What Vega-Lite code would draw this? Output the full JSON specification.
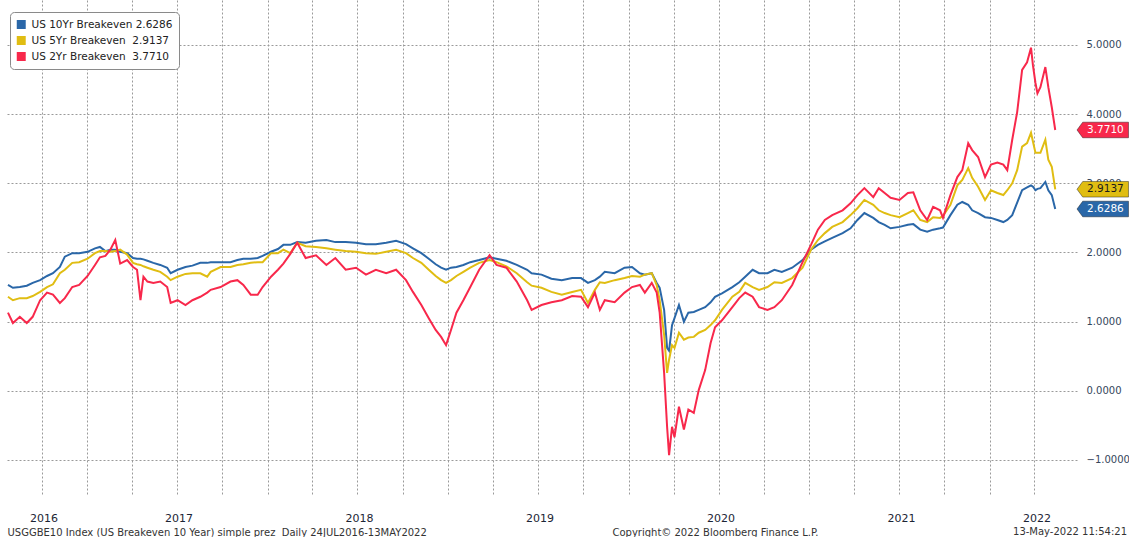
{
  "$schema": "https://vega.github.io/schema/vega-lite/v6.json",
  "width": 1072,
  "height": 495,
  "autosize": {"type": "none"},
  "padding": {"left": 5, "top": 0, "right": 52, "bottom": 42},
  "background": "white",
  "config": {"view": {"stroke": null}, "font": "DejaVu Sans"},
  "title": {"text": "13-May-2022 11:54:21", "orient": "bottom", "anchor": "end", "frame": "group", "fontSize": 10, "fontWeight": "normal", "color": "#333333", "font": "DejaVu Sans", "offset": -10, "dx": 50},
  "data": {"values": [
    {"d":"2016-07-25","b10":1.53,"b5":1.36,"b2":1.13},
    {"d":"2016-08-04","b10":1.49,"b5":1.31,"b2":0.98},
    {"d":"2016-08-18","b10":1.50,"b5":1.34,"b2":1.07},
    {"d":"2016-09-01","b10":1.52,"b5":1.34,"b2":0.98},
    {"d":"2016-09-13","b10":1.56,"b5":1.37,"b2":1.07},
    {"d":"2016-09-28","b10":1.60,"b5":1.43,"b2":1.31},
    {"d":"2016-10-12","b10":1.66,"b5":1.50,"b2":1.42},
    {"d":"2016-10-24","b10":1.70,"b5":1.54,"b2":1.39},
    {"d":"2016-11-07","b10":1.79,"b5":1.70,"b2":1.27},
    {"d":"2016-11-17","b10":1.94,"b5":1.75,"b2":1.34},
    {"d":"2016-12-02","b10":1.99,"b5":1.85,"b2":1.50},
    {"d":"2016-12-16","b10":1.99,"b5":1.86,"b2":1.53},
    {"d":"2017-01-02","b10":2.01,"b5":1.91,"b2":1.66},
    {"d":"2017-01-17","b10":2.06,"b5":1.99,"b2":1.82},
    {"d":"2017-01-27","b10":2.08,"b5":2.02,"b2":1.93},
    {"d":"2017-02-07","b10":2.02,"b5":2.02,"b2":1.95},
    {"d":"2017-02-17","b10":2.04,"b5":2.01,"b2":2.04},
    {"d":"2017-02-27","b10":2.04,"b5":2.02,"b2":2.18},
    {"d":"2017-03-09","b10":2.01,"b5":2.04,"b2":1.84},
    {"d":"2017-03-23","b10":1.99,"b5":1.97,"b2":1.89},
    {"d":"2017-04-04","b10":1.92,"b5":1.85,"b2":1.79},
    {"d":"2017-04-12","b10":1.91,"b5":1.83,"b2":1.75},
    {"d":"2017-04-19","b10":1.91,"b5":1.82,"b2":1.31},
    {"d":"2017-04-25","b10":1.90,"b5":1.80,"b2":1.65},
    {"d":"2017-05-03","b10":1.88,"b5":1.78,"b2":1.58},
    {"d":"2017-05-15","b10":1.85,"b5":1.75,"b2":1.56},
    {"d":"2017-05-29","b10":1.82,"b5":1.72,"b2":1.58},
    {"d":"2017-06-12","b10":1.78,"b5":1.65,"b2":1.50},
    {"d":"2017-06-19","b10":1.70,"b5":1.60,"b2":1.27},
    {"d":"2017-07-03","b10":1.75,"b5":1.65,"b2":1.31},
    {"d":"2017-07-19","b10":1.79,"b5":1.69,"b2":1.24},
    {"d":"2017-08-02","b10":1.81,"b5":1.70,"b2":1.31},
    {"d":"2017-08-18","b10":1.85,"b5":1.70,"b2":1.36},
    {"d":"2017-09-01","b10":1.85,"b5":1.65,"b2":1.42},
    {"d":"2017-09-08","b10":1.86,"b5":1.72,"b2":1.46},
    {"d":"2017-09-28","b10":1.86,"b5":1.79,"b2":1.50},
    {"d":"2017-10-18","b10":1.86,"b5":1.79,"b2":1.58},
    {"d":"2017-11-01","b10":1.89,"b5":1.82,"b2":1.60},
    {"d":"2017-11-13","b10":1.91,"b5":1.83,"b2":1.53},
    {"d":"2017-11-28","b10":1.91,"b5":1.85,"b2":1.39},
    {"d":"2017-12-12","b10":1.92,"b5":1.86,"b2":1.39},
    {"d":"2017-12-22","b10":1.95,"b5":1.86,"b2":1.50},
    {"d":"2018-01-08","b10":2.01,"b5":1.99,"b2":1.65},
    {"d":"2018-01-22","b10":2.05,"b5":1.99,"b2":1.75},
    {"d":"2018-02-02","b10":2.11,"b5":2.04,"b2":1.84},
    {"d":"2018-02-16","b10":2.11,"b5":1.99,"b2":1.98},
    {"d":"2018-03-02","b10":2.15,"b5":2.14,"b2":2.14},
    {"d":"2018-03-19","b10":2.14,"b5":2.09,"b2":1.92},
    {"d":"2018-04-09","b10":2.17,"b5":2.08,"b2":1.96},
    {"d":"2018-04-30","b10":2.18,"b5":2.06,"b2":1.82},
    {"d":"2018-05-18","b10":2.15,"b5":2.04,"b2":1.92},
    {"d":"2018-06-08","b10":2.15,"b5":2.02,"b2":1.75},
    {"d":"2018-06-29","b10":2.14,"b5":2.01,"b2":1.78},
    {"d":"2018-07-19","b10":2.12,"b5":1.99,"b2":1.68},
    {"d":"2018-08-08","b10":2.12,"b5":1.98,"b2":1.75},
    {"d":"2018-08-29","b10":2.14,"b5":2.01,"b2":1.70},
    {"d":"2018-09-18","b10":2.17,"b5":2.04,"b2":1.75},
    {"d":"2018-10-08","b10":2.12,"b5":1.99,"b2":1.60},
    {"d":"2018-10-22","b10":2.06,"b5":1.92,"b2":1.43},
    {"d":"2018-11-08","b10":1.99,"b5":1.85,"b2":1.24},
    {"d":"2018-11-23","b10":1.91,"b5":1.75,"b2":1.05},
    {"d":"2018-12-07","b10":1.83,"b5":1.66,"b2":0.88},
    {"d":"2018-12-18","b10":1.78,"b5":1.60,"b2":0.78},
    {"d":"2018-12-28","b10":1.75,"b5":1.56,"b2":0.66},
    {"d":"2019-01-07","b10":1.78,"b5":1.60,"b2":0.88},
    {"d":"2019-01-18","b10":1.79,"b5":1.66,"b2":1.13},
    {"d":"2019-02-01","b10":1.82,"b5":1.72,"b2":1.31},
    {"d":"2019-02-15","b10":1.86,"b5":1.78,"b2":1.50},
    {"d":"2019-03-05","b10":1.89,"b5":1.85,"b2":1.75},
    {"d":"2019-03-26","b10":1.93,"b5":1.89,"b2":1.96},
    {"d":"2019-04-09","b10":1.91,"b5":1.86,"b2":1.82},
    {"d":"2019-04-29","b10":1.88,"b5":1.80,"b2":1.78},
    {"d":"2019-05-20","b10":1.82,"b5":1.70,"b2":1.58},
    {"d":"2019-06-10","b10":1.75,"b5":1.57,"b2":1.31},
    {"d":"2019-06-19","b10":1.70,"b5":1.52,"b2":1.17},
    {"d":"2019-07-09","b10":1.68,"b5":1.49,"b2":1.24},
    {"d":"2019-07-29","b10":1.62,"b5":1.43,"b2":1.28},
    {"d":"2019-08-19","b10":1.60,"b5":1.39,"b2":1.31},
    {"d":"2019-09-09","b10":1.63,"b5":1.43,"b2":1.37},
    {"d":"2019-09-27","b10":1.63,"b5":1.46,"b2":1.36},
    {"d":"2019-10-11","b10":1.56,"b5":1.27,"b2":1.21},
    {"d":"2019-10-25","b10":1.60,"b5":1.46,"b2":1.42},
    {"d":"2019-11-04","b10":1.65,"b5":1.57,"b2":1.17},
    {"d":"2019-11-14","b10":1.72,"b5":1.56,"b2":1.31},
    {"d":"2019-12-04","b10":1.70,"b5":1.60,"b2":1.28},
    {"d":"2019-12-24","b10":1.78,"b5":1.63,"b2":1.42},
    {"d":"2020-01-08","b10":1.79,"b5":1.66,"b2":1.50},
    {"d":"2020-01-24","b10":1.70,"b5":1.65,"b2":1.53},
    {"d":"2020-02-03","b10":1.68,"b5":1.68,"b2":1.42},
    {"d":"2020-02-17","b10":1.70,"b5":1.70,"b2":1.56},
    {"d":"2020-02-27","b10":1.56,"b5":1.53,"b2":1.42},
    {"d":"2020-03-04","b10":1.49,"b5":1.31,"b2":1.13},
    {"d":"2020-03-13","b10":1.17,"b5":0.81,"b2":0.26},
    {"d":"2020-03-19","b10":0.62,"b5":0.26,"b2":-0.52},
    {"d":"2020-03-23","b10":0.58,"b5":0.45,"b2":-0.93},
    {"d":"2020-03-29","b10":0.95,"b5":0.66,"b2":-0.52},
    {"d":"2020-04-03","b10":1.05,"b5":0.62,"b2":-0.67},
    {"d":"2020-04-12","b10":1.24,"b5":0.84,"b2":-0.23},
    {"d":"2020-04-22","b10":1.00,"b5":0.74,"b2":-0.56},
    {"d":"2020-05-01","b10":1.13,"b5":0.77,"b2":-0.27},
    {"d":"2020-05-12","b10":1.14,"b5":0.78,"b2":-0.32},
    {"d":"2020-05-22","b10":1.17,"b5":0.84,"b2":0.01},
    {"d":"2020-06-04","b10":1.21,"b5":0.88,"b2":0.30},
    {"d":"2020-06-15","b10":1.28,"b5":0.95,"b2":0.69},
    {"d":"2020-06-24","b10":1.36,"b5":1.02,"b2":0.92},
    {"d":"2020-07-08","b10":1.41,"b5":1.17,"b2":1.02},
    {"d":"2020-07-29","b10":1.50,"b5":1.36,"b2":1.21},
    {"d":"2020-08-12","b10":1.57,"b5":1.43,"b2":1.34},
    {"d":"2020-08-24","b10":1.65,"b5":1.56,"b2":1.42},
    {"d":"2020-09-08","b10":1.75,"b5":1.50,"b2":1.36},
    {"d":"2020-09-21","b10":1.70,"b5":1.46,"b2":1.21},
    {"d":"2020-10-08","b10":1.70,"b5":1.50,"b2":1.17},
    {"d":"2020-10-22","b10":1.75,"b5":1.57,"b2":1.21},
    {"d":"2020-11-06","b10":1.72,"b5":1.56,"b2":1.31},
    {"d":"2020-11-27","b10":1.78,"b5":1.63,"b2":1.53},
    {"d":"2020-12-18","b10":1.89,"b5":1.78,"b2":1.86},
    {"d":"2021-01-04","b10":2.04,"b5":2.04,"b2":2.11},
    {"d":"2021-01-18","b10":2.11,"b5":2.18,"b2":2.33},
    {"d":"2021-02-01","b10":2.16,"b5":2.28,"b2":2.47},
    {"d":"2021-02-16","b10":2.21,"b5":2.37,"b2":2.54},
    {"d":"2021-03-09","b10":2.28,"b5":2.44,"b2":2.61},
    {"d":"2021-03-25","b10":2.35,"b5":2.54,"b2":2.71},
    {"d":"2021-04-08","b10":2.47,"b5":2.64,"b2":2.83},
    {"d":"2021-04-22","b10":2.57,"b5":2.76,"b2":2.93},
    {"d":"2021-05-10","b10":2.50,"b5":2.69,"b2":2.80},
    {"d":"2021-05-21","b10":2.44,"b5":2.61,"b2":2.93},
    {"d":"2021-06-02","b10":2.40,"b5":2.57,"b2":2.86},
    {"d":"2021-06-14","b10":2.35,"b5":2.54,"b2":2.79},
    {"d":"2021-07-02","b10":2.37,"b5":2.51,"b2":2.76},
    {"d":"2021-07-19","b10":2.40,"b5":2.57,"b2":2.86},
    {"d":"2021-07-30","b10":2.41,"b5":2.61,"b2":2.87},
    {"d":"2021-08-13","b10":2.33,"b5":2.47,"b2":2.61},
    {"d":"2021-08-27","b10":2.30,"b5":2.44,"b2":2.47},
    {"d":"2021-09-08","b10":2.33,"b5":2.51,"b2":2.66},
    {"d":"2021-09-22","b10":2.35,"b5":2.50,"b2":2.61},
    {"d":"2021-09-28","b10":2.36,"b5":2.53,"b2":2.50},
    {"d":"2021-10-13","b10":2.54,"b5":2.69,"b2":2.83},
    {"d":"2021-10-27","b10":2.69,"b5":2.97,"b2":3.09},
    {"d":"2021-11-06","b10":2.73,"b5":3.05,"b2":3.19},
    {"d":"2021-11-18","b10":2.69,"b5":3.22,"b2":3.58},
    {"d":"2021-11-26","b10":2.61,"b5":3.08,"b2":3.48},
    {"d":"2021-12-08","b10":2.57,"b5":2.95,"b2":3.38},
    {"d":"2021-12-22","b10":2.51,"b5":2.76,"b2":3.09},
    {"d":"2022-01-03","b10":2.50,"b5":2.90,"b2":3.27},
    {"d":"2022-01-16","b10":2.47,"b5":2.86,"b2":3.30},
    {"d":"2022-01-28","b10":2.44,"b5":2.83,"b2":3.27},
    {"d":"2022-02-05","b10":2.47,"b5":2.90,"b2":3.19},
    {"d":"2022-02-15","b10":2.54,"b5":3.00,"b2":3.63},
    {"d":"2022-02-25","b10":2.72,"b5":3.19,"b2":4.03},
    {"d":"2022-03-07","b10":2.90,"b5":3.53,"b2":4.64},
    {"d":"2022-03-17","b10":2.94,"b5":3.58,"b2":4.75},
    {"d":"2022-03-25","b10":2.97,"b5":3.73,"b2":4.96},
    {"d":"2022-03-29","b10":2.95,"b5":3.60,"b2":4.70},
    {"d":"2022-04-03","b10":2.90,"b5":3.44,"b2":4.45},
    {"d":"2022-04-07","b10":2.92,"b5":3.44,"b2":4.30},
    {"d":"2022-04-13","b10":2.93,"b5":3.44,"b2":4.39},
    {"d":"2022-04-23","b10":3.02,"b5":3.63,"b2":4.68},
    {"d":"2022-04-29","b10":2.90,"b5":3.34,"b2":4.39},
    {"d":"2022-05-06","b10":2.83,"b5":3.24,"b2":4.10},
    {"d":"2022-05-13","b10":2.6286,"b5":2.9137,"b2":3.7710}
  ]},
  "encoding": {
    "y": {
      "field": "v", "type": "quantitative",
      "scale": {"domain": [-1.506, 5.65], "nice": false, "zero": false},
      "axis": {
        "orient": "right", "values": [-1, 0, 1, 2, 3, 4, 5], "format": ".4f",
        "labelFont": "DejaVu Sans", "labelFontSize": 10, "labelColor": "#34465c", "labelPadding": 9,
        "ticks": false, "domain": false,
        "grid": true, "gridColor": "#9a9a9a", "gridDash": [2, 2], "gridWidth": 1,
        "title": "USGGBE10 Index (US Breakeven 10 Year) simple prez\u00a0\u00a0Daily 24JUL2016-13MAY2022",
        "titleAngle": 0, "titleAlign": "left", "titleBaseline": "alphabetic",
        "titleX": -1070, "titleY": 535, "titleFont": "DejaVu Sans", "titleFontSize": 10,
        "titleFontWeight": "normal", "titleColor": "#333333"
      }
    }
  },
  "layer": [
    {
      "transform": [{"fold": ["b10", "b5", "b2"], "as": ["s", "v"]}],
      "mark": {"type": "line", "strokeWidth": 2, "clip": false},
      "encoding": {
        "x": {
          "field": "d", "type": "temporal",
          "scale": {"type": "utc", "domain": [{"year": 2016, "month": 7, "date": 19, "utc": true}, {"year": 2022, "month": 6, "date": 26, "utc": true}]},
          "axis": {
            "values": [
              {"year": 2016, "month": 10, "date": 1, "utc": true},
              {"year": 2017, "month": 1, "date": 1, "utc": true},
              {"year": 2017, "month": 4, "date": 1, "utc": true},
              {"year": 2017, "month": 7, "date": 1, "utc": true},
              {"year": 2017, "month": 10, "date": 1, "utc": true},
              {"year": 2018, "month": 1, "date": 1, "utc": true},
              {"year": 2018, "month": 4, "date": 1, "utc": true},
              {"year": 2018, "month": 7, "date": 1, "utc": true},
              {"year": 2018, "month": 10, "date": 1, "utc": true},
              {"year": 2019, "month": 1, "date": 1, "utc": true},
              {"year": 2019, "month": 4, "date": 1, "utc": true},
              {"year": 2019, "month": 7, "date": 1, "utc": true},
              {"year": 2019, "month": 10, "date": 1, "utc": true},
              {"year": 2020, "month": 1, "date": 1, "utc": true},
              {"year": 2020, "month": 4, "date": 1, "utc": true},
              {"year": 2020, "month": 7, "date": 1, "utc": true},
              {"year": 2020, "month": 10, "date": 1, "utc": true},
              {"year": 2021, "month": 1, "date": 1, "utc": true},
              {"year": 2021, "month": 4, "date": 1, "utc": true},
              {"year": 2021, "month": 7, "date": 1, "utc": true},
              {"year": 2021, "month": 10, "date": 1, "utc": true},
              {"year": 2022, "month": 1, "date": 1, "utc": true},
              {"year": 2022, "month": 4, "date": 1, "utc": true}
            ],
            "labelExpr": "(utcmonth(datum.value) == 6 || utcyear(datum.value) == 2016 || (utcyear(datum.value) == 2022 && utcmonth(datum.value) == 3)) ? utcFormat(datum.value, '%Y') : ''",
            "labelFlush": false, "labelOverlap": false, "labelBound": false,
            "labelFont": "DejaVu Sans", "labelFontSize": 11, "labelColor": "#1c2535",
            "labelPadding": 17, "labelOffset": 2,
            "ticks": false, "domain": false,
            "grid": true, "gridColor": "#9a9a9a", "gridDash": [2, 2], "gridWidth": 1,
            "title": "Copyright© 2022 Bloomberg Finance L.P.",
            "titleX": 710, "titleY": 40, "titleAlign": "center", "titleBaseline": "alphabetic",
            "titleFont": "DejaVu Sans", "titleFontSize": 10, "titleFontWeight": "normal", "titleColor": "#333333"
          }
        },
        "color": {
          "field": "s", "type": "nominal",
          "scale": {"domain": ["b10", "b5", "b2"], "range": ["#2a67a8", "#e0bd12", "#f8284b"]},
          "legend": {
            "orient": "none", "legendX": 5, "legendY": 12, "direction": "vertical",
            "title": null, "fillColor": "white", "strokeColor": "#8a8a8a", "cornerRadius": 4, "padding": 6,
            "symbolType": "square", "symbolSize": 20, "symbolStrokeWidth": 4.5, "symbolOpacity": 1,
            "labelFont": "DejaVu Sans", "labelFontSize": 10.5, "labelColor": "#222222", "labelOffset": 5, "labelLimit": 300,
            "rowPadding": 3, "clipHeight": 13,
            "labelExpr": "datum.value == 'b10' ? 'US 10Yr Breakeven 2.6286' : datum.value == 'b5' ? 'US 5Yr Breakeven\u00a0\u00a02.9137' : 'US 2Yr Breakeven\u00a0\u00a03.7710'"
          }
        }
      }
    },
    {
      "data": {"values": [
        {"s": "b10", "v": 2.6286},
        {"s": "b5", "v": 2.9137},
        {"s": "b2", "v": 3.7710}
      ]},
      "mark": {"type": "point", "filled": true, "opacity": 1, "size": 2704, "stroke": "#000000", "strokeOpacity": 0.4, "strokeWidth": 1, "shape": "M0,0 L0.22,-0.3 L1.98,-0.3 L1.98,0.3 L0.22,0.3 Z", "clip": false},
      "encoding": {
        "x": {"value": "width"},
        "fill": {
          "field": "s", "type": "nominal",
          "scale": {"domain": ["b10", "b5", "b2"], "range": ["#2a67a8", "#e0bd12", "#f8284b"]},
          "legend": null
        }
      }
    },
    {
      "data": {"values": [
        {"s": "b10", "v": 2.6286},
        {"s": "b5", "v": 2.9137},
        {"s": "b2", "v": 3.7710}
      ]},
      "mark": {"type": "text", "align": "left", "baseline": "middle", "dx": 10, "font": "DejaVu Sans", "fontSize": 10.5, "clip": false},
      "encoding": {
        "x": {"value": "width"},
        "text": {"field": "v", "type": "quantitative", "format": ".4f"},
        "color": {"condition": {"test": "datum.s === 'b5'", "value": "#1a1a1a"}, "value": "#ffffff"}
      }
    }
  ]
}
